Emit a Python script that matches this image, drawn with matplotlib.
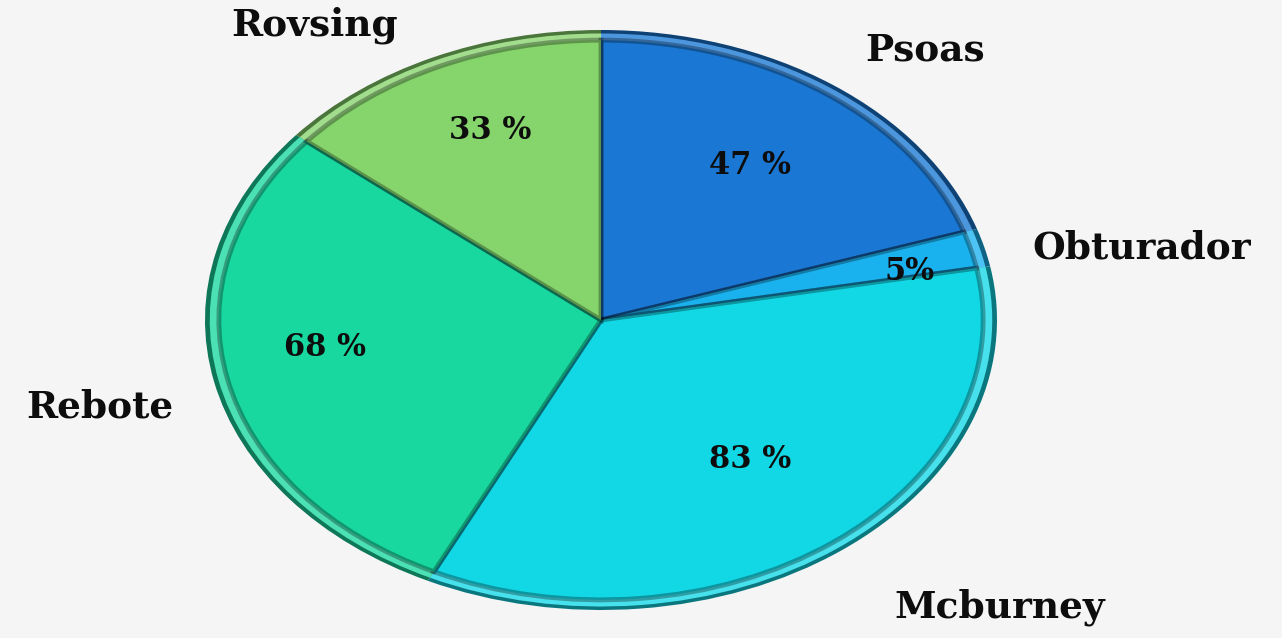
import numpy as np
import matplotlib.pyplot as plt
from matplotlib.colors import to_rgb

labels = ["Psoas", "Obturador", "Mcburney", "Rebote", "Rovsing"]
values = [47, 5, 83, 68, 33]
pct_labels = ["47 %", "5%", "83 %", "68 %", "33 %"]
colors = ["#1a78d4", "#1ab2ee", "#12d8e6", "#18d8a0", "#86d46c"]

W, H = 1282, 638
CX, CY = 601, 320          # pie centre in pixels (y from top)
RX, RY = 396, 290          # pie half-width / half-height in pixels

# label placement (pixel coordinates, y from top)
label_pos = [(925, 50), (1142, 248), (1000, 607), (100, 407), (315, 25)]
pct_pos = [(750, 165), (910, 272), (750, 460), (325, 348), (490, 130)]


def shade(c, f):
    r, g, b = to_rgb(c)
    return (r * f, g * f, b * f)


def tint(c, f):
    return tuple(v + (1 - v) * f for v in to_rgb(c))


fig = plt.figure(figsize=(W / 100, H / 100), dpi=100)
fig.patch.set_facecolor("#f5f5f5")
ax = fig.add_axes([0, 0, 1, 1])
ax.axis("off")

# dark rim (bevel shadow)
ax.pie(values, radius=1.0, startangle=90, counterclock=False,
       colors=[shade(c, 0.55) for c in colors],
       wedgeprops=dict(linewidth=0))
# light bevel highlight
ax.pie(values, radius=0.988, startangle=90, counterclock=False,
       colors=[tint(c, 0.22) for c in colors],
       wedgeprops=dict(linewidth=0))
# main face
ax.pie(values, radius=0.965, startangle=90, counterclock=False,
       colors=colors,
       wedgeprops=dict(linewidth=3.5, edgecolor=(0, 0, 0, 0.3)))

ax.set_aspect("auto")
ax.set_xlim(-CX / RX, (W - CX) / RX)
ax.set_ylim(-(H - CY) / RY, CY / RY)

font = dict(family=["DejaVu Serif"], fontweight="bold", color="#0d0d0d")
for name, (x, y) in zip(labels, label_pos):
    fig.text(x / W, 1 - y / H, name, ha="center", va="center",
             fontsize=27, **font)
for txt, (x, y) in zip(pct_labels, pct_pos):
    fig.text(x / W, 1 - y / H, txt, ha="center", va="center",
             fontsize=22, **font)

fig.savefig("out.png", dpi=100, facecolor=fig.get_facecolor())
